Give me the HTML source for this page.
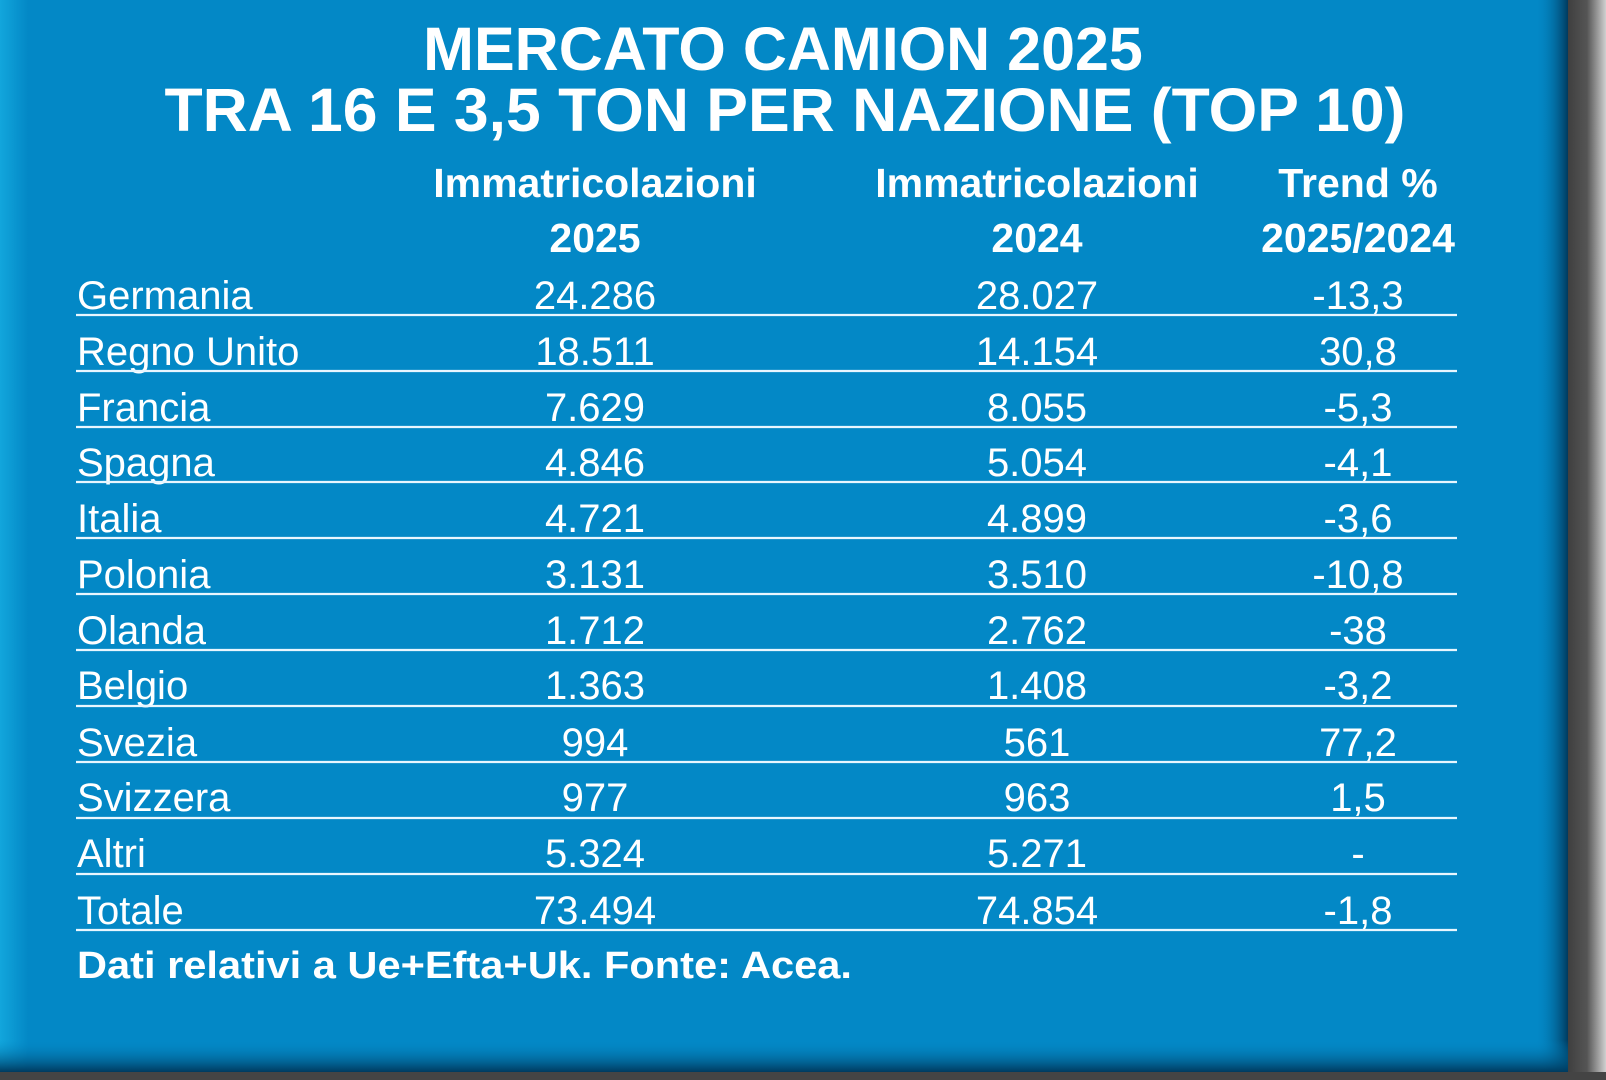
<!DOCTYPE html>
<html><head><meta charset="utf-8"><style>
html,body{margin:0;padding:0;background:#bdbdbd;}
svg{display:block}
text{fill:#fff;font-family:"Liberation Sans",sans-serif}
</style></head><body>
<svg width="1606" height="1080" viewBox="0 0 1606 1080" xmlns="http://www.w3.org/2000/svg">
<defs>
<linearGradient id="lg" x1="0" x2="1" y1="0" y2="0">
<stop offset="0" stop-color="#12a6dc"/><stop offset="1" stop-color="#0388c6"/></linearGradient>
<linearGradient id="rs" x1="0" x2="1"><stop offset="0" stop-color="#0388c6" stop-opacity="0"/><stop offset="1" stop-color="#003a5e"/></linearGradient>
<linearGradient id="bs" x1="0" x2="0" y1="0" y2="1"><stop offset="0" stop-color="#0388c6" stop-opacity="0"/><stop offset="1" stop-color="#003a5e"/></linearGradient>
<linearGradient id="gr" x1="0" x2="1"><stop offset="0" stop-color="#3f3f3f"/><stop offset="0.5" stop-color="#555"/><stop offset="1" stop-color="#d0d0d0"/></linearGradient>
</defs>
<rect x="0" y="0" width="1606" height="1080" fill="#cfcfcf"/>
<rect x="1568" y="0" width="38" height="1080" fill="url(#gr)"/>
<rect x="0" y="1072" width="1606" height="8" fill="#444"/>
<rect x="0" y="0" width="1568" height="1072" fill="#0388c6"/>
<rect x="0" y="0" width="28" height="1072" fill="url(#lg)"/>
<rect x="1535" y="0" width="33" height="1072" fill="url(#rs)"/>
<rect x="0" y="1040" width="1568" height="32" fill="url(#bs)"/>

<text x="783" y="70" font-size="61" font-weight="bold" text-anchor="middle">MERCATO CAMION 2025</text>
<text x="785" y="131" font-size="61" font-weight="bold" text-anchor="middle" textLength="1241" lengthAdjust="spacingAndGlyphs">TRA 16 E 3,5 TON PER NAZIONE (TOP 10)</text>

<g font-size="41" font-weight="bold" text-anchor="middle">
<text x="595" y="197">Immatricolazioni</text>
<text x="595" y="252">2025</text>
<text x="1037" y="197">Immatricolazioni</text>
<text x="1037" y="252">2024</text>
<text x="1358" y="197">Trend %</text>
<text x="1358" y="252">2025/2024</text>
</g>

<g font-size="40">
<g transform="translate(0,309)"><text x="77" y="0">Germania</text><text x="595" y="0" text-anchor="middle">24.286</text><text x="1037" y="0" text-anchor="middle">28.027</text><text x="1358" y="0" text-anchor="middle">-13,3</text></g>
<g transform="translate(0,365)"><text x="77" y="0">Regno Unito</text><text x="595" y="0" text-anchor="middle">18.511</text><text x="1037" y="0" text-anchor="middle">14.154</text><text x="1358" y="0" text-anchor="middle">30,8</text></g>
<g transform="translate(0,421)"><text x="77" y="0">Francia</text><text x="595" y="0" text-anchor="middle">7.629</text><text x="1037" y="0" text-anchor="middle">8.055</text><text x="1358" y="0" text-anchor="middle">-5,3</text></g>
<g transform="translate(0,476)"><text x="77" y="0">Spagna</text><text x="595" y="0" text-anchor="middle">4.846</text><text x="1037" y="0" text-anchor="middle">5.054</text><text x="1358" y="0" text-anchor="middle">-4,1</text></g>
<g transform="translate(0,532)"><text x="77" y="0">Italia</text><text x="595" y="0" text-anchor="middle">4.721</text><text x="1037" y="0" text-anchor="middle">4.899</text><text x="1358" y="0" text-anchor="middle">-3,6</text></g>
<g transform="translate(0,588)"><text x="77" y="0">Polonia</text><text x="595" y="0" text-anchor="middle">3.131</text><text x="1037" y="0" text-anchor="middle">3.510</text><text x="1358" y="0" text-anchor="middle">-10,8</text></g>
<g transform="translate(0,644)"><text x="77" y="0">Olanda</text><text x="595" y="0" text-anchor="middle">1.712</text><text x="1037" y="0" text-anchor="middle">2.762</text><text x="1358" y="0" text-anchor="middle">-38</text></g>
<g transform="translate(0,699)"><text x="77" y="0">Belgio</text><text x="595" y="0" text-anchor="middle">1.363</text><text x="1037" y="0" text-anchor="middle">1.408</text><text x="1358" y="0" text-anchor="middle">-3,2</text></g>
<g transform="translate(0,756)"><text x="77" y="0">Svezia</text><text x="595" y="0" text-anchor="middle">994</text><text x="1037" y="0" text-anchor="middle">561</text><text x="1358" y="0" text-anchor="middle">77,2</text></g>
<g transform="translate(0,811)"><text x="77" y="0">Svizzera</text><text x="595" y="0" text-anchor="middle">977</text><text x="1037" y="0" text-anchor="middle">963</text><text x="1358" y="0" text-anchor="middle">1,5</text></g>
<g transform="translate(0,867)"><text x="77" y="0">Altri</text><text x="595" y="0" text-anchor="middle">5.324</text><text x="1037" y="0" text-anchor="middle">5.271</text><text x="1358" y="0" text-anchor="middle">-</text></g>
<g transform="translate(0,924)"><text x="77" y="0">Totale</text><text x="595" y="0" text-anchor="middle">73.494</text><text x="1037" y="0" text-anchor="middle">74.854</text><text x="1358" y="0" text-anchor="middle">-1,8</text></g>
</g>

<g stroke="#e8f6ff" stroke-width="2.2">
<line x1="76" x2="1457" y1="315" y2="315"/>
<line x1="76" x2="1457" y1="371" y2="371"/>
<line x1="76" x2="1457" y1="427" y2="427"/>
<line x1="76" x2="1457" y1="482" y2="482"/>
<line x1="76" x2="1457" y1="538" y2="538"/>
<line x1="76" x2="1457" y1="594" y2="594"/>
<line x1="76" x2="1457" y1="650" y2="650"/>
<line x1="76" x2="1457" y1="706" y2="706"/>
<line x1="76" x2="1457" y1="762" y2="762"/>
<line x1="76" x2="1457" y1="818" y2="818"/>
<line x1="76" x2="1457" y1="874" y2="874"/>
<line x1="76" x2="1457" y1="930" y2="930"/>
</g>

<text x="77" y="978" font-size="38" font-weight="bold" textLength="775" lengthAdjust="spacingAndGlyphs">Dati relativi a Ue+Efta+Uk. Fonte: Acea.</text>
</svg>
</body></html>
